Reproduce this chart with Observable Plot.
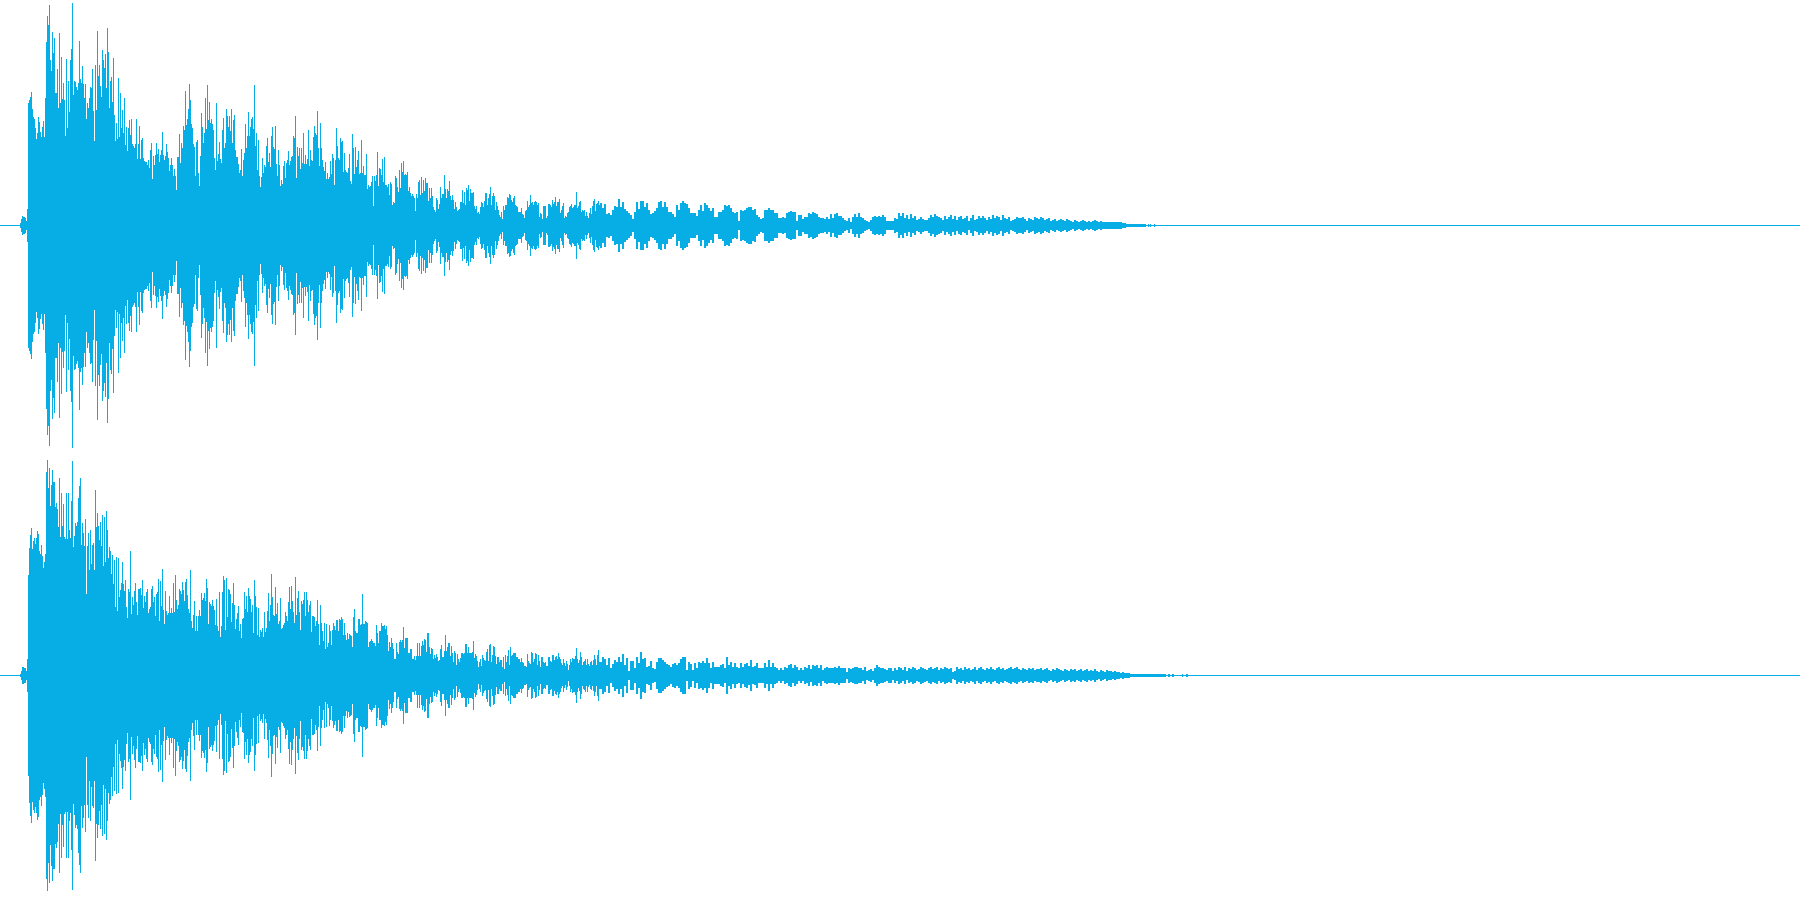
<!DOCTYPE html>
<html>
<head>
<meta charset="utf-8">
<script src="https://cdn.jsdelivr.net/npm/d3@7"></script>
<script src="https://cdn.jsdelivr.net/npm/@observablehq/plot@0.6"></script>
<style>html,body{margin:0;padding:0;background:#fff}svg{display:block}</style>
</head>
<body>
<div id="chart"></div>
<script>
const channels = ["Left", "Right"];
const waveColor = "#07aee6";
const fullScale = 225;

// Peak level, one value per column, from column 20
const ch1Fine = [2,6,9,8,8,7,4,16,
122,125,128,133,116,108,106,97,86,92,108,103,93,88,98,104,88,127,183,209,200,220,165,154,193,172,187,
132,132,156,117,192,122,168,126,142,125,89,166,97,144,113,165,176,222,130,144,143,138,135,142,184,146,142,159,141,127,141,106,122,117,127,138,137,156,114,84,160,115,194,149,160,139,128,175,165,157,171,137,197,173,117,144,148,123,167,110,84,102,86,147,88,132,97,115,92,127,80,98,74,97,105,90,106,81,79,77,81,106,66,81,99,66,85,87,67,64,63,63,60,65,57,75,82,46,69,60,70,82,71,76,63,70,75,93,70,65,69,81,73,67,54,60,67,60,49,56,49,35,68,68,91,62,82,77,99,95,134,100,106,116,141,125,101,97,81,78,49,83,85,52,39,
69,112,98,82,92,127,96,140,105,123,102,106,101,95,67,55,122,64,71,83,66,62,95,107,77,82,116,109,98,109,94,116,82,105,110,75,68,68,61,52,55,76,49,65,72,101,77,89,113,89,98,106,108,96,140,79,92,55,85,49,38,48,67,52,60,58,79,87,63,72,58,89,98,78,76,99,61,49,75,60,39,45,41,59,64,47,62,65,74,60,64,68,69,89,87,109,47,78,69,77,56,77,62,92,61,70,61,66,95,59,75,65,64,88,99,92,90,114,77,59,102,77,65,58,54,63,46,52,46,48,64,51,71,67,40,65,97,79,67,65,87,83,84,53,72,55,53,52,57,71,44,41,91,77,51,78,58,65,74,51,52,85,52,59,50,50,71,36,40,38,39,43,49,19,49,44,50,73,39,57,56,50,66,43,68,40,40,38,41,30,43,41,20,23,22,49,47,38,33,55,
37,62,53,64,50,51,50,53,34,38,32,29,31,29,27,14,31,27,43,45,30,48,32,45,34,47,42,42,24,37,27,37,29,18,15,13,27,25,16,21,38,27,31,31,50,36,27,36,34,44,29,25,30,25,16,23,18,14,15,16,23,23,35,22,33,20,37,35,40,24,36,32,32,33,19,16,19,12,13,11,18,23,22,18,24,32,32,20,27,31,38,20,29,32,29,15,23,19,15,10,8,13,6,19,15,20,20,28,27,31,30,25,23,27,29,20,19,18,13,13,13,17,11,10,7,14,15,24,18,20,30,22,23,20,23,24,23,20,22,8,12,11,6,19,19,19,7,9,21,21,20,18,25,21,23,28,19,23,23,26,12,15,19,22,7,9,8,12,13,18,19,21,17,18,20,20,33,17,19,23,24,13,15,14,15,9,13,9,7,12,17,11,19,24,26,14,21,22,24,20];

// Peak level per two-pixel column, from column 600
const ch1Mid = [22,17,21,11,12,10,15,19,18,26,18,23,16,14,12,10,6,13,23,16,24,24,18,22,15,11,12,14,17,23,24,18,23,18,13,13,11,8,20,15,22,24,22,21,17,12,12,12,9,15,20,14,22,20,17,14,17,8,8,13,13,15,20,19,20,17,13,12,13,4,15,14,15,17,18,18,15,16,10,8,6,7,15,15,17,15,15,12,12,7,7,8,7,12,13,14,13,13,4,10,10,6,8,8,12,11,13,12,11,8,7,7,6,8,6,11,7,11,12,9,9,7,5,4,7,3,8,11,8,12,8,7,5,4,3,5,8,9,8,9,8,10,8,4,4,4,4,7,6,12];

// Peak level per two-pixel column, from column 900
const ch1Late = [9,12,7,10,6,11,7,9,5,6,8,6,5,5,7,10,8,11,9,8,7,5,9,6,8,10,6,9,5,8,9,6,7,9,4,7,10,5,6,9,7,9,7,5,8,6,10,7,9,8,5,10,7,6,8,4,5,6,8,7,7,8,6,4,7,6,5,8,7,6,8,7,5,6,7,4,5,6,4,5,6,5,4,6,5,4,3,5,4,3,4,5,4,3,4,3,4,5,4,3,4,3];

// Last stretch before silence: start column, end column, level
const ch1TailStart = [1104,1122,1126,1148,1150,1154];
const ch1TailEnd = [1122,1126,1146,1149,1151,1155];
const ch1TailLevel = [3,2,1,1,1,1];

const ch2Fine = [1,4,8,8,7,7,4,16,
100,127,140,147,126,134,137,131,137,144,141,124,121,130,119,107,113,121,203,215,187,207,169,190,205,193,193,168,172,166,148,197,138,182,149,171,138,136,182,136,182,145,137,174,214,128,139,152,149,153,177,189,197,130,152,142,129,156,81,129,142,105,145,111,130,132,105,185,148,162,149,135,153,129,160,109,158,113,164,145,117,128,124,101,120,91,115,68,118,64,117,78,85,92,113,91,84,95,68,57,86,83,124,61,78,70,84,92,73,60,86,86,87,80,95,67,79,73,83,86,62,66,68,86,89,73,78,59,81,83,96,54,94,69,106,65,51,84,64,60,62,79,62,67,62,92,63,100,75,66,70,86,84,81,93,85,74,93,96,80,66,62,105,54,47,60,74,44,59,44,59,65,
59,82,75,77,82,74,96,87,51,73,71,69,75,69,65,50,76,49,44,83,38,49,83,99,95,45,97,58,86,85,81,53,72,92,70,46,56,62,69,44,51,37,56,57,83,66,79,63,87,79,76,63,70,42,95,79,68,40,67,38,45,43,47,38,63,43,47,64,82,54,70,101,78,60,59,88,61,72,51,54,77,46,47,50,52,63,59,54,73,88,66,89,74,63,52,98,60,77,84,63,45,74,71,75,83,59,83,75,63,70,74,43,59,59,58,49,54,75,51,30,70,52,44,34,52,26,51,28,32,50,44,30,45,52,49,45,55,55,44,56,55,58,56,40,52,40,35,42,36,41,40,39,28,58,66,44,42,42,56,56,50,51,81,51,51,54,53,52,28,33,34,36,34,32,32,29,50,42,32,44,44,52,49,49,50,46,49,40,24,33,28,37,32,26,16,16,32,23,21,33,
35,33,35,48,27,37,37,37,22,22,26,26,16,16,19,15,19,32,19,32,19,29,34,30,36,35,23,42,42,28,21,27,26,16,20,17,21,18,14,15,26,30,18,18,24,40,24,28,32,32,19,29,22,13,24,22,10,21,16,13,17,22,22,21,22,31,31,22,28,22,22,22,23,34,17,21,19,14,8,13,16,9,20,17,15,14,23,26,14,30,31,13,20,29,28,19,11,18,18,13,15,15,8,18,6,20,13,19,25,10,28,19,20,22,22,22,18,18,16,16,13,17,13,12,9,9,8,21,14,12,11,23,22,13,16,22,21,10,20,14,8,18,18,13,12,13,9,9,18,18,14,13,20,20,15,18,19,16,22,18,16,12,10,16,12,9,14,11,5,10,16,13,17,16,16,19,27,16,12,15,23,18,10,13,14,16,10,16,11,9,13,14,10,15,20,16,10,20,25,13];

const ch2Mid = [13,18,16,10,17,7,11,15,13,18,13,21,10,17,4,14,14,7,18,12,23,16,17,8,9,14,7,6,13,17,17,15,13,11,10,8,11,12,10,12,16,18,18,5,13,11,5,12,7,13,12,14,12,17,12,7,13,8,8,8,10,11,7,18,10,13,8,12,8,7,12,8,11,12,9,15,8,9,12,7,7,7,12,8,15,8,12,8,7,5,7,5,8,7,10,11,7,10,8,5,7,5,8,7,10,6,10,9,10,7,10,5,7,8,7,7,7,8,7,9,7,7,7,3,7,6,7,8,8,7,7,5,8,4,5,6,4,7,10,8,7,7,6,5,7,7,4,7,5,8];

const ch2Late = [7,5,8,4,7,6,8,7,5,6,8,7,6,5,7,8,6,7,8,5,7,6,8,7,6,7,3,4,8,6,7,5,8,6,7,5,6,8,5,7,8,6,5,7,6,8,6,5,7,8,6,7,5,6,7,8,6,7,8,6,5,7,6,5,7,6,7,5,6,6,7,5,6,7,5,4,6,5,7,6,5,4,6,5,4,6,5,6,4,5,6,4,5,6,4,5,4,6,4,3,5,4,3,5,4,4,3,4,3,3,2,3];

const ch2TailStart = [1124,1130,1168,1172,1182,1186];
const ch2TailEnd = [1130,1166,1170,1174,1183,1188];
const ch2TailLevel = [2,1,1,1,1,1];

// Build a single table of columns for the library to scale
const columns = [];
const addRun = (channel, values, start, step) =>
  values.forEach((level, i) => columns.push({channel, from: start + i * step, to: start + (i + 1) * step, level}));
const addTail = (channel, starts, ends, levels) =>
  starts.forEach((s, i) => columns.push({channel, from: s, to: ends[i], level: levels[i]}));

addRun(channels[0], ch1Fine, 20, 1);
addRun(channels[0], ch1Mid, 600, 2);
addRun(channels[0], ch1Late, 900, 2);
addTail(channels[0], ch1TailStart, ch1TailEnd, ch1TailLevel);
addRun(channels[1], ch2Fine, 20, 1);
addRun(channels[1], ch2Mid, 600, 2);
addRun(channels[1], ch2Late, 900, 2);
addTail(channels[1], ch2TailStart, ch2TailEnd, ch2TailLevel);

const chart = Plot.plot({
  width: 1800,
  height: 900,
  margin: 0,
  style: {background: "#fff"},
  x: {domain: [0, 1800], axis: null},
  y: {domain: [-fullScale, fullScale], axis: null},
  fy: {domain: channels, axis: null, padding: 0},
  marks: [
    Plot.ruleY([0], {stroke: waveColor, strokeWidth: 1}),
    Plot.rect(columns, {
      fy: "channel",
      x1: "from",
      x2: "to",
      y1: d => -(d.level + 1),
      y2: d => d.level,
      fill: waveColor
    })
  ]
});
document.getElementById("chart").appendChild(chart);
</script>
</body>
</html>
